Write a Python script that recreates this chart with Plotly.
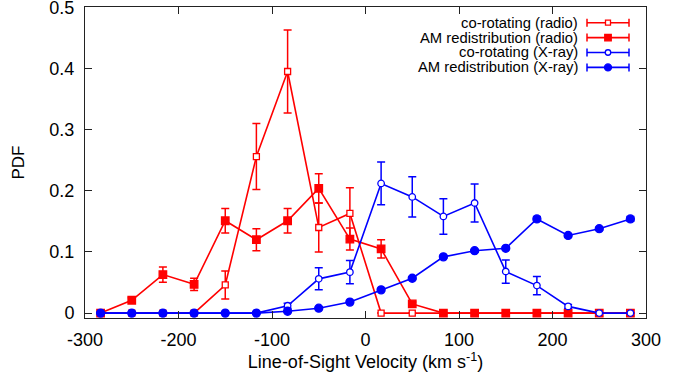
import plotly.graph_objects as go

# ---- data ----
velocity = [-283.3, -250.0, -216.7, -183.3, -150.0, -116.7, -83.3, -50.0, -16.7,
            16.7, 50.0, 83.3, 116.7, 150.0, 183.3, 216.7, 250.0, 283.3]

corot_radio = [0, 0, 0, 0, 0.046, 0.256, 0.395, 0.140, 0.163,
               0, 0, 0, 0, 0, 0, 0, 0, 0]
corot_radio_err = [0, 0, 0, 0, 0.023, 0.054, 0.068, 0.040, 0.042,
                   0, 0, 0, 0, 0, 0, 0, 0, 0]

amr_radio = [0, 0.021, 0.063, 0.047, 0.151, 0.120, 0.151, 0.204, 0.121,
             0.105, 0.015, 0, 0, 0, 0, 0, 0, 0]
amr_radio_err = [0, 0.004, 0.0125, 0.010, 0.020, 0.018, 0.020, 0.024, 0.018,
                 0.015, 0.003, 0, 0, 0, 0, 0, 0, 0]

corot_xray = [0, 0, 0, 0, 0, 0, 0.012, 0.056, 0.067,
              0.212, 0.190, 0.158, 0.180, 0.068, 0.045, 0.011, 0, 0]
corot_xray_err = [0, 0, 0, 0, 0, 0, 0.004, 0.018, 0.019,
                  0.035, 0.033, 0.029, 0.031, 0.019, 0.015, 0.003, 0, 0]

amr_xray = [0, 0, 0, 0, 0, 0, 0.003, 0.008, 0.018,
            0.038, 0.057, 0.092, 0.102, 0.106, 0.154, 0.127, 0.138, 0.154]
amr_xray_err = [0, 0, 0, 0, 0, 0, 0.001, 0.001, 0.001,
                0.002, 0.002, 0.002, 0.002, 0.002, 0.004, 0.002, 0.002, 0.004]

series_names = ["co-rotating (radio)", "AM redistribution (radio)",
                "co-rotating (X-ray)", "AM redistribution (X-ray)"]

x_ticks = [-300, -200, -100, 0, 100, 200, 300]
x_ticktext = ["-300", "-200", "-100", "0", "100", "200", "300"]
y_ticks = [0, 0.1, 0.2, 0.3, 0.4, 0.5]
y_ticktext = ["0", "0.1", "0.2", "0.3", "0.4", "0.5"]

# ---- styles ----
RED = "#ff0000"
BLUE = "#0000ff"
FONT = "Liberation Sans, Arial, Helvetica, sans-serif"

styles = [
    dict(color=RED, symbol="square", fill="white", size=6),
    dict(color=RED, symbol="square", fill=RED, size=7.5),
    dict(color=BLUE, symbol="circle", fill="white", size=6.5),
    dict(color=BLUE, symbol="circle", fill=BLUE, size=8),
]
values = [(corot_radio, corot_radio_err), (amr_radio, amr_radio_err),
          (corot_xray, corot_xray_err), (amr_xray, amr_xray_err)]

fig = go.Figure()
for name, (y, e), st in zip(series_names, values, styles):
    fig.add_trace(go.Scatter(
        x=velocity, y=y, name=name, mode="lines+markers",
        line=dict(color=st["color"], width=1.6),
        marker=dict(symbol=st["symbol"], size=st["size"], color=st["fill"],
                    line=dict(color=st["color"], width=1.3)),
        error_y=dict(type="data", array=e, visible=True, color=st["color"],
                     thickness=1.5, width=4),
        showlegend=False,
    ))

# ---- layout geometry (pixels) ----
W, H = 688, 376
L, R, T, B = 85, 42, 7, 58
pw, ph = W - L - R, H - T - B


def px(xp):
    return (xp - L) / pw


def py(yp):
    return (H - B - yp) / ph


# ---- custom legend (text left of sample, like the reference) ----
shapes = []
annotations = []
rows = [22.7, 37.6, 52.5, 67.4]
lx0, lx1, lxm = 587, 629, 608
for name, st, yr in zip(series_names, styles, rows):
    c = st["color"]
    shapes.append(dict(type="line", xref="paper", yref="paper",
                       x0=px(lx0), x1=px(lx1), y0=py(yr), y1=py(yr),
                       line=dict(color=c, width=1.6)))
    for xc in (lx0, lx1):
        shapes.append(dict(type="line", xref="paper", yref="paper",
                           x0=px(xc), x1=px(xc), y0=py(yr - 4), y1=py(yr + 4),
                           line=dict(color=c, width=1.5)))
    hs = st["size"] / 2 - 0.5
    shapes.append(dict(type="rect" if st["symbol"] == "square" else "circle",
                       xref="paper", yref="paper",
                       x0=px(lxm - hs), x1=px(lxm + hs),
                       y0=py(yr - hs), y1=py(yr + hs),
                       fillcolor=st["fill"], line=dict(color=c, width=1.3)))
    annotations.append(dict(text=name, xref="paper", yref="paper",
                            x=px(579), y=py(yr), xanchor="right", yanchor="middle",
                            showarrow=False, borderpad=0,
                            font=dict(family=FONT, size=14.8, color="black")))

fig.update_layout(
    width=W, height=H,
    margin=dict(l=L, r=R, t=T, b=B),
    paper_bgcolor="white", plot_bgcolor="white",
    font=dict(family=FONT, size=18, color="black"),
    shapes=shapes, annotations=annotations,
    showlegend=False,
)
fig.update_xaxes(
    range=[-300, 300], tickvals=x_ticks, ticktext=x_ticktext,
    ticks="inside", ticklen=7,
    tickcolor="#222", showline=True, linecolor="#222", linewidth=1,
    mirror="ticks", showgrid=False, zeroline=False,
    ticklabelstandoff=5, ticklabeloverflow="allow",
    title=dict(text="Line-of-Sight Velocity (km s<sup>-1</sup>)",
               font=dict(size=18), standoff=6),
    automargin=False,
)
fig.update_yaxes(
    range=[-0.008, 0.5005], tickvals=y_ticks, ticktext=y_ticktext,
    ticks="inside", ticklen=7, tickcolor="#222", showline=True,
    linecolor="#222", linewidth=1, mirror="ticks", showgrid=False,
    zeroline=False, ticklabelstandoff=6, ticklabeloverflow="allow",
    title=dict(text="PDF", font=dict(size=17), standoff=20),
    automargin=False,
)

fig.write_html("out.html")
